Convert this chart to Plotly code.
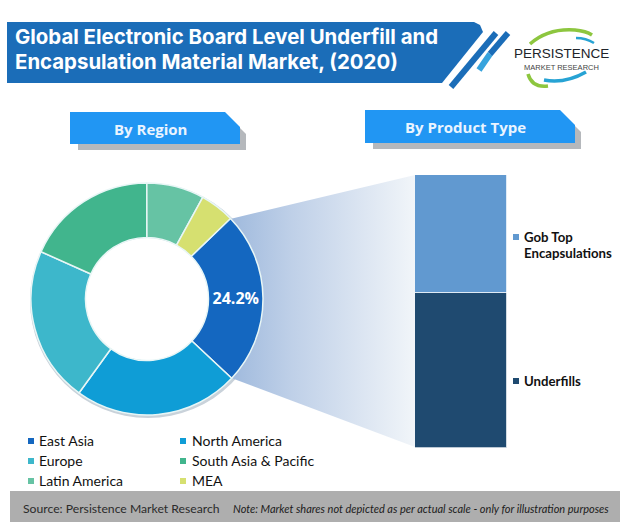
import plotly.graph_objects as go

W = 620
H = 522

regions = ["East Asia", "North America", "Europe", "South Asia & Pacific", "Latin America", "MEA"]
region_shares = [24.2, 23.0, 21.7, 18.3, 8.0, 4.8]
region_colors = ["#1467c0", "#0f9dd6", "#3db7cb", "#41b58d", "#66c3a4", "#d6e070"]

products = ["Underfills", "Gob Top Encapsulations"]
product_shares = [56.6, 43.4]
product_colors = ["#1f4a70", "#6199d0"]

title_lines = ["Global Electronic Board Level Underfill and", "Encapsulation Material Market, (2020)"]
source_text = "Source: Persistence Market Research"
note_text = "Note: Market shares not depicted as per actual scale - only for illustration purposes"

FONT = "Lato"


def dom_x(a, b):
    return [a / W, b / W]


def dom_y(top, bottom):
    return [1 - bottom / H, 1 - top / H]


def poly(points, fill, line=None, width=0):
    path = "M" + " L".join(f"{x},{y}" for x, y in points) + " Z"
    return dict(type="path", xref="x", yref="y", path=path, fillcolor=fill, layer="below",
                line=dict(color=line or fill, width=width))


def stroke(path, color, width):
    return dict(type="path", xref="x", yref="y", path=path, layer="below",
                line=dict(color=color, width=width))


def text(x, y, s, size, color="#111111", anchor="left", bold=False, italic=False, font=FONT):
    if bold:
        s = f"<b>{s}</b>"
    if italic:
        s = f"<i>{s}</i>"
    return dict(xref="x", yref="y", x=x, y=y, text=s, showarrow=False, xanchor=anchor, yanchor="middle",
                borderpad=0, font=dict(family=font, size=size, color=color))


def tag(x0, x1, y0, y1, label):
    shadow = poly([(x0 + 8, y0 + 8), (x1 - 8, y0 + 8), (x1 + 6, y0 + 22), (x1 + 6, y1 + 6), (x0 + 8, y1 + 6)], "#b5b8bc")
    body = poly([(x0, y0), (x1 - 15, y0), (x1, y0 + 15), (x1, y1), (x0, y1)], "#2196f3")
    return [shadow, body], text((x0 + x1) / 2 - 5, (y0 + y1) / 2 + 0.5, label, 15, "#eaf4ff", "center", bold=True, font="Open Sans")


fig = go.Figure()

# page sized axis for the decorations, one unit = one pixel
fig.add_trace(go.Scatter(
    x=[226, 415, 415, 226], y=[220, 175, 447, 376], mode="lines", fill="toself",
    line=dict(width=0), hoverinfo="skip", showlegend=False,
    fillgradient=dict(type="horizontal", colorscale=[[0, "#9db8dc"], [0.35, "#bfd0e8"], [1, "#f1f5f9"]]),
    xaxis="x", yaxis="y"))

for name, share, color in zip(products, product_shares, product_colors):
    fig.add_trace(go.Bar(
        x=["Product"], y=[share], name=name, width=1, showlegend=False,
        marker=dict(color=color, line=dict(color="#ffffff", width=0.8)),
        xaxis="x2", yaxis="y2"))

pie_text = [f"<b>{region_shares[0]}%</b>"] + [""] * (len(regions) - 1)
fig.add_trace(go.Pie(
    labels=regions, values=region_shares, hole=0.53, sort=False, direction="clockwise", rotation=46,
    marker=dict(colors=region_colors, line=dict(color="#e8f6f6", width=1.5)),
    text=pie_text, textinfo="text", textposition="inside", insidetextorientation="horizontal",
    textfont=dict(family="Open Sans", size=16, color="#ffffff"),
    domain=dict(x=dom_x(31, 263), y=dom_y(183, 415)), showlegend=False))

shapes = []
notes = []

# title banner with the two slanted stripes
shapes.append(poly([(7, 22), (474, 22), (480, 25), (483, 32), (442, 83), (7, 83)], "#1b6db8"))
shapes.append(stroke("M451,87 L496,33", "#1b6db8", 6))
shapes.append(stroke("M479,70 L490,54", "#37a3dd", 6))
shapes.append(stroke("M490,54 L508,33", "#1b6db8", 6))
notes.append(text(14, 36, title_lines[0], 20.4, "#ffffff", bold=True, font="Inter"))
notes.append(text(14, 61, title_lines[1], 20.4, "#ffffff", bold=True, font="Inter"))

# logo
shapes.append(stroke("M530,44 Q548,28 575,30 Q586,31 592,35", "#8dc63f", 3.5))
shapes.append(stroke("M528,74 Q532,88 548,86", "#8dc63f", 3.5))
shapes.append(stroke("M544,80 Q565,84 586,72", "#27a3d4", 3.5))
shapes.append(stroke("M576,38 Q586,38 594,43", "#27a3d4", 2.5))
notes.append(text(561, 53, "PERSISTENCE", 13.5, "#20242a", "center", font="Liberation Sans"))
notes.append(text(561, 67, "MARKET RESEARCH", 7.5, "#444444", "center", font="Liberation Sans"))

# section tags
for box, label in [((70, 240, 112, 144), "By Region"), ((365, 575, 110, 143), "By Product Type")]:
    tag_shapes, tag_text = tag(*box, label)
    shapes += tag_shapes
    notes.append(tag_text)

# soft edge behind the donut, hole stays white
shapes.append(dict(type="circle", xref="x", yref="y", x0=30, y0=183, x1=266, y1=418, layer="below",
                   fillcolor="#c9d2da", line=dict(width=0)))
shapes.append(dict(type="circle", xref="x", yref="y", x0=85, y0=238, x1=209, y1=361, layer="below",
                   fillcolor="#ffffff", line=dict(width=0)))

# region legend
legend_x = [(31, 38), (183, 191)]
legend_y = [440, 460, 480]
for i, (name, color) in enumerate(zip(regions, region_colors)):
    mx, tx = legend_x[i % 2]
    ly = legend_y[i // 2]
    shapes.append(dict(type="rect", xref="x", yref="y", x0=mx - 3, x1=mx + 3, y0=ly - 2, y1=ly + 4,
                       fillcolor=color, line=dict(width=0)))
    notes.append(text(tx, ly, name, 14, "#111111", bold=False, font="Lato"))

# product legend
shapes.append(dict(type="rect", xref="x", yref="y", x0=513, x1=519, y0=234, y1=240,
                   fillcolor=product_colors[1], line=dict(width=0)))
shapes.append(dict(type="rect", xref="x", yref="y", x0=513, x1=519, y0=378, y1=384,
                   fillcolor=product_colors[0], line=dict(width=0)))
notes.append(text(523, 237, "Gob Top", 13.2, bold=True))
notes.append(text(523, 253, "Encapsulations", 13.2, bold=True))
notes.append(text(523, 381, products[0], 13.2, bold=True))

# footer
shapes.append(dict(type="rect", xref="x", yref="y", x0=10, x1=620, y0=491, y1=522,
                   fillcolor="#aeaeae", line=dict(width=0), layer="below"))
notes.append(text(22, 508, source_text, 12.2, "#2b2b2b"))
notes.append(text(232, 508, note_text, 11, "#1c1c1c", italic=True))

fig.update_layout(
    width=W, height=H, margin=dict(l=0, r=0, t=0, b=0),
    paper_bgcolor="#ffffff", plot_bgcolor="rgba(0,0,0,0)",
    barmode="stack", bargap=0, showlegend=False,
    shapes=shapes, annotations=notes,
    xaxis=dict(range=[0, W], domain=[0, 1], visible=False, fixedrange=True),
    yaxis=dict(range=[H, 0], domain=[0, 1], visible=False, fixedrange=True),
    xaxis2=dict(domain=dom_x(415, 507), anchor="y2", visible=False, fixedrange=True),
    yaxis2=dict(domain=dom_y(175, 447.5), anchor="x2", range=[0, 100], visible=False, fixedrange=True),
)

fig.write_html("out.html", config=dict(displayModeBar=False), post_script="document.body.style.margin='0';")
